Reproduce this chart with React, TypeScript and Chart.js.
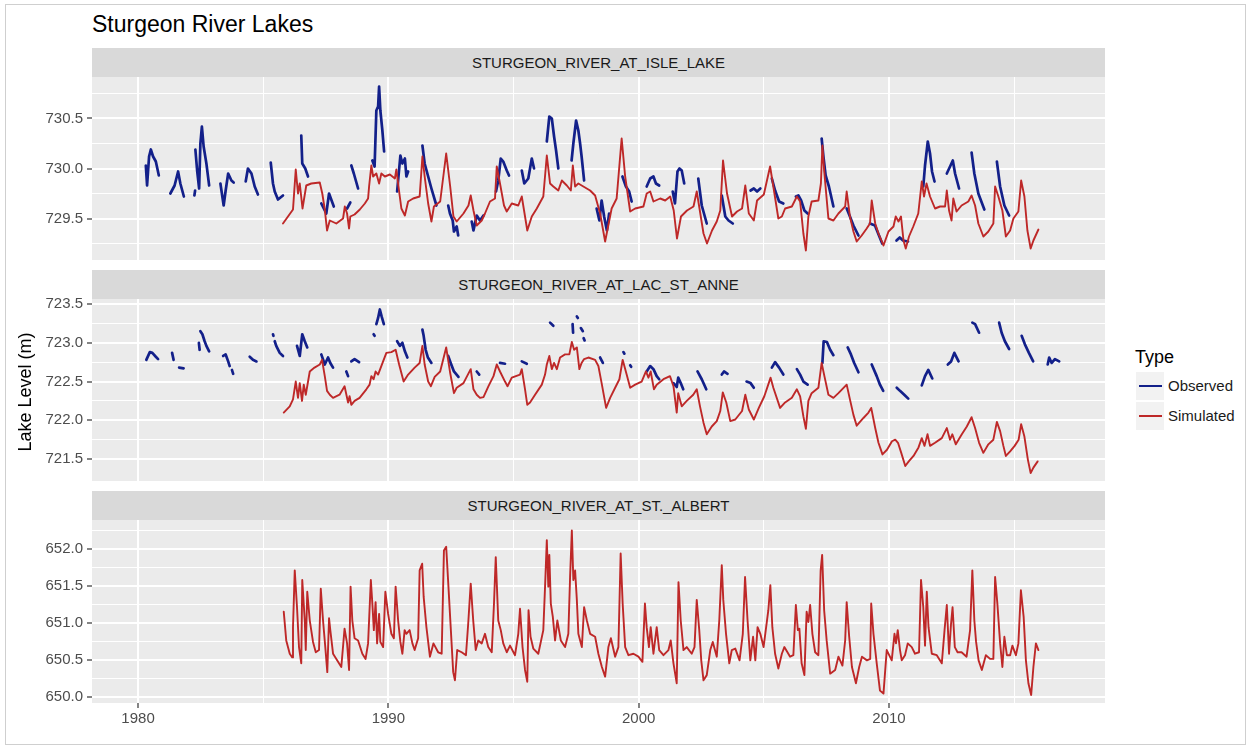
import React, { useEffect, useRef } from 'react';
import { Chart, registerables } from 'chart.js';

Chart.register(...registerables);

// ---------- tick labels ----------
const yearTicks = [1980, 1985, 1990, 1995, 2000, 2005, 2010, 2015];
const isleTicks = [729.25, 729.5, 729.75, 730, 730.25, 730.5, 730.75];
const lacTicks = [721.5, 721.75, 722, 722.25, 722.5, 722.75, 723, 723.25, 723.5];
const albertTicks = [650, 650.25, 650.5, 650.75, 651, 651.25, 651.5, 651.75, 652, 652.25];

const panelNames = ['STURGEON_RIVER_AT_ISLE_LAKE', 'STURGEON_RIVER_AT_LAC_ST_ANNE', 'STURGEON_RIVER_AT_ST._ALBERT'];
const legendTypes = ['Observed', 'Simulated'];

// ---------- series: [year, level] ----------
const isleSimulated: [number, number][] = [
  [1985.79,729.45],[1986.19,729.59],[1986.3,729.99],[1986.39,729.75],[1986.46,729.85],[1986.57,729.6],[1986.72,729.83],[1986.92,729.85],[1987.26,729.86],[1987.36,729.75],[1987.46,729.59],[1987.55,729.38],[1987.66,729.48],[1987.92,729.45],[1988.19,729.5],[1988.26,729.62],[1988.35,729.55],[1988.43,729.4],[1988.48,729.52],[1988.65,729.54],[1988.86,729.59],[1989.06,729.65],[1989.19,729.7],[1989.23,729.82],[1989.32,730.03],[1989.39,729.92],[1989.52,729.95],[1989.63,729.85],[1989.72,729.95],[1989.86,729.92],[1990.06,729.94],[1990.26,729.9],[1990.32,729.99],[1990.43,729.77],[1990.52,729.6],[1990.66,729.53],[1990.79,729.67],[1990.99,729.7],[1991.25,729.72],[1991.36,730.12],[1991.45,729.92],[1991.59,729.65],[1991.72,729.47],[1991.82,729.62],[1992.07,729.67],[1992.31,730.15],[1992.47,729.82],[1992.6,729.52],[1992.73,729.47],[1993.0,729.55],[1993.2,729.63],[1993.29,729.73],[1993.4,729.58],[1993.53,729.43],[1993.73,729.48],[1993.86,729.55],[1994.06,729.67],[1994.26,729.7],[1994.33,730.02],[1994.46,729.85],[1994.62,729.63],[1994.73,729.57],[1994.93,729.65],[1995.19,729.63],[1995.33,729.72],[1995.46,729.52],[1995.55,729.38],[1995.73,729.52],[1995.93,729.6],[1996.19,729.72],[1996.33,730.13],[1996.46,729.85],[1996.59,729.82],[1996.79,729.78],[1996.93,729.88],[1997.13,729.83],[1997.29,729.78],[1997.37,730.03],[1997.46,729.82],[1997.59,729.85],[1997.79,729.82],[1998.06,729.78],[1998.26,729.73],[1998.46,729.55],[1998.66,729.27],[1998.92,729.6],[1999.12,729.7],[1999.32,730.3],[1999.46,729.92],[1999.66,729.57],[1999.86,729.6],[2000.19,729.62],[2000.32,729.75],[2000.46,729.77],[2000.59,729.67],[2000.86,729.7],[2001.06,729.68],[2001.26,729.72],[2001.4,729.58],[2001.53,729.3],[2001.69,729.52],[2001.93,729.58],[2002.19,729.62],[2002.32,729.77],[2002.43,729.6],[2002.59,729.35],[2002.73,729.25],[2002.93,729.38],[2003.12,729.47],[2003.26,729.58],[2003.37,730.08],[2003.53,729.75],[2003.73,729.52],[2003.93,729.57],[2004.13,729.6],[2004.26,729.83],[2004.4,729.55],[2004.6,729.48],[2004.73,729.68],[2005.0,729.74],[2005.25,730.02],[2005.38,729.82],[2005.58,729.5],[2005.72,729.52],[2005.85,729.6],[2006.12,729.62],[2006.32,729.72],[2006.45,729.67],[2006.58,729.35],[2006.68,729.18],[2006.78,729.52],[2006.91,729.67],[2007.18,729.68],[2007.28,729.85],[2007.34,730.23],[2007.42,729.95],[2007.58,729.5],[2007.78,729.48],[2007.98,729.55],[2008.25,729.62],[2008.31,729.77],[2008.44,729.52],[2008.58,729.37],[2008.71,729.27],[2008.91,729.33],[2009.11,729.4],[2009.24,729.45],[2009.31,729.68],[2009.45,729.45],[2009.58,729.35],[2009.78,729.23],[2009.98,729.37],[2010.18,729.42],[2010.27,729.52],[2010.38,729.47],[2010.48,729.52],[2010.58,729.28],[2010.67,729.2],[2010.8,729.32],[2010.97,729.42],[2011.17,729.55],[2011.31,729.87],[2011.4,729.72],[2011.5,729.85],[2011.64,729.72],[2011.84,729.6],[2012.04,729.62],[2012.24,729.62],[2012.31,729.78],[2012.4,729.58],[2012.5,729.48],[2012.57,729.7],[2012.7,729.57],[2012.9,729.63],[2013.17,729.67],[2013.3,729.73],[2013.44,729.63],[2013.57,729.45],[2013.77,729.32],[2013.97,729.37],[2014.17,729.45],[2014.24,729.82],[2014.37,729.72],[2014.53,729.58],[2014.67,729.32],[2014.84,729.38],[2014.97,729.5],[2015.17,729.57],[2015.28,729.88],[2015.41,729.72],[2015.53,729.38],[2015.66,729.2],[2015.77,729.28],[2015.97,729.39]
];

const isleObserved: [number, number][][] = [
  [[1980.31,730.03],[1980.36,729.83],[1980.44,730.12],[1980.51,730.19],[1980.6,730.12],[1980.71,730.07],[1980.83,729.93]],
  [[1981.29,729.75],[1981.46,729.83],[1981.6,729.97],[1981.69,729.85],[1981.83,729.72]],
  [[1982.25,729.73],[1982.28,729.78]],
  [[1982.29,730.19],[1982.36,729.98],[1982.44,729.8],[1982.49,730.25],[1982.55,730.42],[1982.62,730.22],[1982.73,730.05],[1982.84,729.83]],
  [[1983.29,729.85],[1983.42,729.63],[1983.5,729.78],[1983.6,729.95],[1983.73,729.88],[1983.82,729.86]],
  [[1984.3,729.87],[1984.39,730.0],[1984.53,729.95],[1984.66,729.82],[1984.79,729.74]],
  [[1985.3,730.06],[1985.39,729.85],[1985.46,729.77],[1985.59,729.69],[1985.79,729.73]],
  [[1986.52,730.33],[1986.56,730.05],[1986.68,730.0],[1986.79,729.92]],
  [[1987.32,729.65],[1987.52,729.55],[1987.63,729.75],[1987.82,729.62]],
  [[1988.35,729.6],[1988.48,729.66]],
  [[1988.52,730.03],[1988.62,729.95],[1988.79,729.8]],
  [[1989.36,730.08],[1989.45,730.02],[1989.52,730.58],[1989.59,730.62],[1989.63,730.82],[1989.68,730.58],[1989.76,730.38],[1989.83,730.17]],
  [[1990.35,729.77],[1990.48,730.13],[1990.56,730.05],[1990.66,730.1],[1990.72,729.92],[1990.79,729.97]],
  [[1991.36,730.23],[1991.45,730.05],[1991.59,729.92],[1991.72,729.8],[1991.92,729.63]],
  [[1992.39,729.63],[1992.46,729.55],[1992.57,729.48],[1992.62,729.37],[1992.73,729.42],[1992.79,729.33]],
  [[1993.33,729.47],[1993.4,729.38],[1993.53,729.53],[1993.66,729.48],[1993.8,729.53]],
  [[1994.3,729.77],[1994.39,729.88],[1994.49,730.1],[1994.59,730.07],[1994.73,729.98],[1994.82,729.93]],
  [[1995.33,729.98],[1995.43,729.85],[1995.59,729.9],[1995.73,730.1],[1995.82,730.0]],
  [[1996.33,730.27],[1996.43,730.52],[1996.53,730.5],[1996.62,730.32],[1996.7,730.18],[1996.79,730.0]],
  [[1997.32,730.08],[1997.39,730.25],[1997.5,730.48],[1997.59,730.38],[1997.66,730.25],[1997.72,730.12],[1997.82,729.88]],
  [[1998.32,729.6],[1998.43,729.48],[1998.52,729.68],[1998.62,729.52],[1998.73,729.38],[1998.82,729.55]],
  [[1999.35,729.92],[1999.49,729.82],[1999.62,729.77],[1999.72,729.67]],
  [[2000.32,729.82],[2000.46,729.9],[2000.59,729.92],[2000.69,729.85],[2000.82,729.83]],
  [[2001.36,729.77],[2001.45,729.65],[2001.55,729.97],[2001.63,730.0],[2001.72,729.98],[2001.82,729.85]],
  [[2002.38,729.9],[2002.52,729.63],[2002.72,729.45]],
  [[2003.32,729.73],[2003.46,729.52],[2003.59,729.48],[2003.76,729.45]],
  [[2004.47,729.78],[2004.6,729.8],[2004.73,729.77],[2004.86,729.8]],
  [[2005.32,729.9],[2005.45,729.78],[2005.61,729.67],[2005.78,729.65]],
  [[2006.28,729.72],[2006.38,729.73],[2006.49,729.68],[2006.62,729.58],[2006.75,729.55]],
  [[2007.31,730.3],[2007.38,730.12],[2007.47,729.93],[2007.6,729.82],[2007.78,729.62]],
  [[2008.31,729.6],[2008.44,729.52],[2008.58,729.43],[2008.78,729.33]],
  [[2009.24,729.45],[2009.44,729.43],[2009.6,729.33],[2009.73,729.25]],
  [[2010.3,729.28],[2010.43,729.31],[2010.56,729.28],[2010.76,729.27]],
  [[2011.37,729.82],[2011.44,730.03],[2011.55,730.27],[2011.64,730.15],[2011.72,729.97],[2011.82,729.87]],
  [[2012.31,729.95],[2012.44,730.02],[2012.55,730.08],[2012.64,729.95],[2012.8,729.8]],
  [[2013.3,730.16],[2013.41,729.95],[2013.57,729.75],[2013.81,729.59]],
  [[2014.31,730.07],[2014.44,729.82],[2014.61,729.63],[2014.8,729.53]]
];

const lacSimulated: [number, number][] = [
  [1985.82,722.1],[1986.06,722.18],[1986.19,722.27],[1986.3,722.5],[1986.39,722.29],[1986.46,722.48],[1986.55,722.25],[1986.62,722.46],[1986.7,722.33],[1986.86,722.63],[1987.05,722.68],[1987.26,722.72],[1987.35,722.78],[1987.46,722.57],[1987.55,722.38],[1987.66,722.33],[1987.79,722.29],[1988.05,722.33],[1988.25,722.44],[1988.39,722.23],[1988.45,722.31],[1988.52,722.2],[1988.65,722.25],[1988.85,722.29],[1989.12,722.4],[1989.25,722.46],[1989.32,722.57],[1989.41,722.53],[1989.49,722.63],[1989.59,722.59],[1989.79,722.76],[1989.92,722.87],[1990.12,722.88],[1990.29,722.91],[1990.43,722.72],[1990.61,722.5],[1990.79,722.59],[1991.05,722.68],[1991.25,722.74],[1991.36,722.96],[1991.45,722.72],[1991.59,722.5],[1991.7,722.44],[1991.85,722.56],[1992.07,722.63],[1992.31,722.94],[1992.47,722.61],[1992.62,722.35],[1992.73,722.42],[1993.0,722.48],[1993.29,722.66],[1993.4,722.4],[1993.53,722.33],[1993.66,722.29],[1993.8,722.3],[1994.0,722.44],[1994.2,722.57],[1994.33,722.72],[1994.46,722.63],[1994.66,722.5],[1994.76,722.44],[1994.93,722.55],[1995.26,722.59],[1995.33,722.66],[1995.46,722.4],[1995.55,722.2],[1995.66,722.23],[1995.86,722.33],[1996.13,722.46],[1996.26,722.59],[1996.33,722.72],[1996.43,722.83],[1996.53,722.66],[1996.62,722.74],[1996.73,722.66],[1996.86,722.81],[1997.06,722.85],[1997.23,722.85],[1997.33,723.01],[1997.42,722.91],[1997.53,722.94],[1997.63,722.66],[1997.72,722.74],[1997.82,722.79],[1997.99,722.81],[1998.26,722.78],[1998.39,722.7],[1998.52,722.48],[1998.7,722.16],[1998.86,722.29],[1999.06,722.42],[1999.23,722.53],[1999.36,722.78],[1999.52,722.59],[1999.66,722.42],[1999.86,722.46],[2000.12,722.5],[2000.29,722.63],[2000.39,722.55],[2000.48,722.63],[2000.61,722.4],[2000.72,722.46],[2000.99,722.53],[2001.25,722.57],[2001.39,722.44],[2001.52,722.1],[2001.58,722.35],[2001.72,722.18],[2001.92,722.25],[2002.18,722.33],[2002.32,722.4],[2002.45,722.18],[2002.59,721.97],[2002.72,721.82],[2002.92,721.92],[2003.12,721.99],[2003.26,722.12],[2003.36,722.36],[2003.5,722.23],[2003.66,721.99],[2003.86,722.01],[2004.13,722.12],[2004.26,722.33],[2004.4,722.14],[2004.6,722.01],[2004.8,722.16],[2005.02,722.31],[2005.27,722.55],[2005.38,722.42],[2005.65,722.16],[2005.85,722.23],[2006.12,722.29],[2006.32,722.4],[2006.45,722.31],[2006.58,722.05],[2006.68,721.89],[2006.78,722.25],[2006.91,722.35],[2007.18,722.42],[2007.31,722.74],[2007.42,722.57],[2007.58,722.33],[2007.78,722.29],[2007.98,722.35],[2008.31,722.46],[2008.44,722.27],[2008.58,722.07],[2008.71,721.93],[2008.98,722.03],[2009.18,722.1],[2009.29,722.16],[2009.45,721.9],[2009.58,721.71],[2009.74,721.56],[2009.92,721.62],[2010.12,721.73],[2010.25,721.75],[2010.36,721.71],[2010.49,721.58],[2010.65,721.41],[2010.79,721.47],[2010.98,721.54],[2011.18,721.65],[2011.31,721.77],[2011.42,721.67],[2011.54,721.82],[2011.64,721.67],[2011.84,721.71],[2012.11,721.77],[2012.31,721.9],[2012.44,721.75],[2012.53,721.82],[2012.67,721.69],[2012.91,721.82],[2013.11,721.92],[2013.3,722.04],[2013.44,721.9],[2013.6,721.71],[2013.77,721.58],[2013.97,721.69],[2014.17,721.75],[2014.31,721.98],[2014.44,721.86],[2014.57,721.67],[2014.67,721.54],[2014.84,721.6],[2015.02,721.67],[2015.18,721.75],[2015.28,721.95],[2015.41,721.79],[2015.55,721.49],[2015.66,721.32],[2015.77,721.39],[2015.94,721.47]
];

const lacObserved: [number, number][][] = [
  [[1980.33,722.78],[1980.47,722.88],[1980.57,722.87],[1980.71,722.82],[1980.8,722.79]],
  [[1981.36,722.87],[1981.42,722.78]],
  [[1981.64,722.68],[1981.82,722.67]],
  [[1982.43,723.0],[1982.46,722.91]],
  [[1982.49,723.15],[1982.57,723.11],[1982.66,723.02],[1982.73,722.96],[1982.84,722.89]],
  [[1983.4,722.83],[1983.5,722.85],[1983.6,722.76],[1983.66,722.7]],
  [[1983.75,722.65],[1983.8,722.6]],
  [[1984.46,722.82],[1984.59,722.78],[1984.73,722.76]],
  [[1985.39,723.11],[1985.41,723.09]],
  [[1985.46,723.02],[1985.52,722.96],[1985.66,722.87],[1985.79,722.83]],
  [[1986.35,722.96],[1986.46,722.83],[1986.56,723.11],[1986.66,723.02],[1986.76,722.94]],
  [[1987.32,722.85],[1987.46,722.72],[1987.59,722.81],[1987.68,722.74],[1987.79,722.68]],
  [[1988.32,722.63],[1988.39,722.57]],
  [[1988.52,722.76],[1988.65,722.79],[1988.83,722.75]],
  [[1989.41,723.11],[1989.45,723.09]],
  [[1989.52,723.24],[1989.59,723.32],[1989.66,723.43],[1989.73,723.34],[1989.82,723.24]],
  [[1990.35,723.02],[1990.46,722.96],[1990.56,723.0],[1990.66,722.89],[1990.76,722.81]],
  [[1991.36,723.17],[1991.41,723.09],[1991.49,722.91],[1991.58,722.81],[1991.72,722.74]],
  [[1992.39,722.83],[1992.49,722.74],[1992.62,722.63],[1992.8,722.56]],
  [[1993.53,722.63],[1993.63,722.59]],
  [[1994.46,722.74],[1994.66,722.73]],
  [[1995.33,722.76],[1995.53,722.73]],
  [[1996.46,723.26],[1996.59,723.22]],
  [[1997.36,723.24],[1997.38,723.13]],
  [[1997.53,723.34],[1997.57,723.32]],
  [[1997.69,723.19],[1997.77,723.15]],
  [[1997.8,723.06],[1997.84,723.03]],
  [[1998.46,722.81],[1998.57,722.74]],
  [[1999.39,722.88],[1999.43,722.86]],
  [[1999.66,722.71],[1999.7,722.69]],
  [[2000.32,722.63],[2000.46,722.7],[2000.59,722.66],[2000.72,722.57],[2000.82,722.53]],
  [[2001.39,722.48],[2001.52,722.43],[2001.58,722.55],[2001.68,722.48],[2001.78,722.4]],
  [[2002.35,722.63],[2002.52,722.53],[2002.7,722.4]],
  [[2003.32,722.59],[2003.41,722.63],[2003.55,722.6]],
  [[2004.31,722.5],[2004.47,722.48],[2004.6,722.42]],
  [[2005.32,722.68],[2005.45,722.75],[2005.61,722.68],[2005.78,722.59]],
  [[2006.32,722.66],[2006.45,722.59],[2006.58,722.5],[2006.75,722.46]],
  [[2007.34,722.74],[2007.39,723.02],[2007.52,723.01],[2007.65,722.91],[2007.78,722.84]],
  [[2008.35,722.94],[2008.48,722.85],[2008.61,722.74],[2008.78,722.62]],
  [[2009.31,722.72],[2009.51,722.57],[2009.64,722.46],[2009.77,722.38]],
  [[2010.31,722.42],[2010.44,722.38],[2010.61,722.33],[2010.77,722.28]],
  [[2011.31,722.45],[2011.44,722.57],[2011.57,722.65],[2011.73,722.54]],
  [[2012.35,722.72],[2012.48,722.76],[2012.61,722.87],[2012.78,722.76]],
  [[2013.33,723.26],[2013.44,723.24],[2013.6,723.13]],
  [[2014.4,723.26],[2014.5,723.13],[2014.63,723.02],[2014.8,722.92]],
  [[2015.3,723.09],[2015.43,722.98],[2015.59,722.87],[2015.76,722.76]],
  [[2016.34,722.72],[2016.4,722.81],[2016.5,722.74],[2016.63,722.79],[2016.8,722.76]]
];

const albertSimulated: [number, number][] = [
  [1985.82,651.15],[1985.92,650.76],[1986.06,650.58],[1986.16,650.53],[1986.19,650.94],[1986.26,651.71],[1986.35,651.21],[1986.43,650.67],[1986.52,650.45],[1986.56,651.58],[1986.66,651.03],[1986.7,650.63],[1986.76,651.42],[1986.86,651.03],[1986.99,650.74],[1987.1,650.6],[1987.23,650.63],[1987.3,651.46],[1987.39,651.03],[1987.48,650.67],[1987.56,650.33],[1987.63,651.06],[1987.68,650.9],[1987.79,650.58],[1987.99,650.47],[1988.12,650.4],[1988.25,650.92],[1988.35,650.72],[1988.43,650.36],[1988.49,651.49],[1988.56,651.03],[1988.65,650.79],[1988.79,650.76],[1988.96,650.58],[1989.09,650.51],[1989.19,650.72],[1989.3,651.58],[1989.36,651.26],[1989.42,650.9],[1989.49,651.28],[1989.55,650.72],[1989.63,651.12],[1989.68,650.74],[1989.79,650.67],[1989.88,651.42],[1989.99,651.12],[1990.12,650.85],[1990.22,650.79],[1990.29,651.49],[1990.39,651.03],[1990.48,650.74],[1990.56,650.58],[1990.65,650.9],[1990.72,650.85],[1990.85,650.9],[1990.96,650.72],[1991.05,650.63],[1991.19,650.79],[1991.25,651.71],[1991.35,651.8],[1991.41,651.35],[1991.52,650.94],[1991.66,650.54],[1991.8,650.72],[1991.99,650.6],[1992.13,650.58],[1992.22,651.98],[1992.31,652.03],[1992.4,651.49],[1992.49,650.94],[1992.59,650.33],[1992.66,650.22],[1992.75,650.63],[1992.93,650.6],[1993.1,650.56],[1993.19,650.99],[1993.29,651.53],[1993.39,651.03],[1993.49,650.63],[1993.59,650.76],[1993.73,650.72],[1993.86,650.85],[1993.99,650.67],[1994.13,650.6],[1994.22,651.26],[1994.29,651.89],[1994.39,651.03],[1994.49,650.9],[1994.59,650.72],[1994.73,650.6],[1994.86,650.69],[1995.06,650.56],[1995.19,650.85],[1995.26,651.19],[1995.36,650.67],[1995.46,650.36],[1995.55,650.2],[1995.6,651.17],[1995.68,650.81],[1995.79,650.65],[1995.99,650.58],[1996.19,650.9],[1996.26,651.49],[1996.33,652.12],[1996.39,651.49],[1996.43,651.92],[1996.49,651.26],[1996.57,651.08],[1996.66,650.76],[1996.75,651.03],[1996.89,650.76],[1997.06,650.67],[1997.19,650.85],[1997.26,651.62],[1997.33,652.25],[1997.39,651.58],[1997.46,651.71],[1997.53,651.31],[1997.59,650.85],[1997.73,650.67],[1997.82,651.21],[1997.93,651.03],[1998.06,650.85],[1998.26,650.81],[1998.39,650.58],[1998.53,650.4],[1998.66,650.27],[1998.79,650.67],[1998.89,650.79],[1999.06,650.54],[1999.19,650.67],[1999.28,651.94],[1999.36,651.26],[1999.46,650.67],[1999.59,650.56],[1999.79,650.58],[1999.99,650.54],[2000.15,650.47],[2000.25,651.26],[2000.32,650.94],[2000.41,650.67],[2000.48,650.94],[2000.59,650.58],[2000.72,650.94],[2000.82,650.63],[2000.99,650.56],[2001.19,650.63],[2001.28,650.76],[2001.39,650.45],[2001.52,650.18],[2001.59,651.55],[2001.68,651.03],[2001.79,650.63],[2001.92,650.67],[2002.12,650.58],[2002.23,650.67],[2002.32,651.31],[2002.42,650.9],[2002.5,650.49],[2002.59,650.22],[2002.72,650.29],[2002.86,650.63],[2002.96,650.74],[2003.12,650.54],[2003.22,651.03],[2003.32,651.78],[2003.38,651.31],[2003.49,650.85],[2003.62,650.45],[2003.72,650.63],[2003.86,650.65],[2004.03,650.49],[2004.16,650.85],[2004.25,651.62],[2004.35,651.03],[2004.46,650.49],[2004.57,650.81],[2004.66,650.49],[2004.75,650.94],[2004.86,650.85],[2004.99,650.67],[2005.18,651.17],[2005.26,651.51],[2005.34,650.94],[2005.45,650.58],[2005.58,650.38],[2005.72,650.58],[2005.82,650.67],[2006.05,650.54],[2006.18,650.56],[2006.28,651.24],[2006.36,650.9],[2006.42,650.92],[2006.51,650.45],[2006.62,650.29],[2006.71,651.15],[2006.78,651.01],[2006.85,651.24],[2006.94,650.85],[2007.05,650.6],[2007.18,650.56],[2007.27,651.71],[2007.33,651.92],[2007.41,651.17],[2007.51,650.76],[2007.65,650.31],[2007.85,650.36],[2007.98,650.54],[2008.14,650.42],[2008.25,650.76],[2008.31,651.28],[2008.41,650.81],[2008.52,650.4],[2008.68,650.18],[2008.81,650.4],[2008.92,650.54],[2009.12,650.49],[2009.25,650.51],[2009.29,651.26],[2009.38,650.85],[2009.51,650.45],[2009.64,650.08],[2009.78,650.04],[2009.91,650.63],[2010.11,650.49],[2010.22,650.85],[2010.28,650.72],[2010.35,650.9],[2010.44,650.63],[2010.51,650.49],[2010.64,650.56],[2010.75,650.72],[2010.91,650.67],[2011.04,650.58],[2011.2,650.6],[2011.28,651.58],[2011.37,651.21],[2011.44,650.69],[2011.51,651.42],[2011.58,650.94],[2011.71,650.58],[2011.91,650.56],[2012.11,650.45],[2012.22,650.9],[2012.31,651.24],[2012.4,650.58],[2012.48,650.99],[2012.54,651.21],[2012.63,650.67],[2012.74,650.6],[2012.9,650.6],[2013.1,650.54],[2013.24,650.9],[2013.33,651.71],[2013.41,651.03],[2013.48,650.74],[2013.58,650.49],[2013.71,650.36],[2013.87,650.56],[2014.04,650.51],[2014.17,650.51],[2014.24,651.62],[2014.33,651.26],[2014.44,650.72],[2014.53,650.4],[2014.61,650.81],[2014.71,650.56],[2014.84,650.56],[2014.93,650.69],[2015.07,650.56],[2015.17,650.72],[2015.27,651.44],[2015.38,651.08],[2015.47,650.49],[2015.57,650.18],[2015.68,650.02],[2015.77,650.4],[2015.87,650.72],[2015.97,650.63]
];

// ---------- styling / layout ----------
const FONT = "'Liberation Sans', Arial, Helvetica, sans-serif";
const BLUE = '#13208A';
const RED = '#BE2828';
const X_RANGE = [1978.16, 2018.63];
const PLOT_LEFT = 92;
const PLOT_RIGHT = 1105;
const PAD_TOP = 12; // extra canvas room above each panel for the top tick label

type PanelSpec = {
  top: number;
  height: number;
  yRange: [number, number];
  yTicks: number[];
  sim: [number, number][];
  obs: [number, number][][] | null;
  showX: boolean;
  stripTop: number;
  name: string;
};

const panels: PanelSpec[] = [
  { top: 77, height: 183, yRange: [729.085, 730.915], yTicks: isleTicks, sim: isleSimulated, obs: isleObserved, showX: false, stripTop: 48, name: panelNames[0] },
  { top: 299, height: 182, yRange: [721.217, 723.565], yTicks: lacTicks, sim: lacSimulated, obs: lacObserved, showX: false, stripTop: 270, name: panelNames[1] },
  { top: 520, height: 183, yRange: [649.912, 652.393], yTicks: albertTicks, sim: albertSimulated, obs: null, showX: true, stripTop: 491, name: panelNames[2] },
];

const X_AXIS_H = 30;

function toPoints(pairs: [number, number][]) {
  return pairs.map(([x, y]) => ({ x, y }));
}

function segmentsToPoints(segs: [number, number][][]) {
  const out: { x: number; y: number | null }[] = [];
  segs.forEach((s, i) => {
    if (i > 0) {
      const prev = segs[i - 1];
      out.push({ x: (prev[prev.length - 1][0] + s[0][0]) / 2, y: null });
    }
    s.forEach(([x, y]) => out.push({ x, y }));
  });
  return out;
}

const isMajorY = (v: number) => Math.abs(v * 2 - Math.round(v * 2)) < 1e-6;
const isMajorX = (v: number) => Math.abs(v % 10) < 1e-6;

const panelBg = {
  id: 'panelBg',
  beforeDraw(chart: any) {
    const { ctx, chartArea } = chart;
    if (!chartArea) return;
    ctx.save();
    ctx.fillStyle = '#EBEBEB';
    ctx.fillRect(chartArea.left, chartArea.top, chartArea.right - chartArea.left, chartArea.bottom - chartArea.top);
    ctx.restore();
  },
};

function makeChart(canvas: HTMLCanvasElement, p: PanelSpec) {
  const datasets: any[] = [
    {
      label: legendTypes[1],
      data: toPoints(p.sim),
      borderColor: RED,
      borderWidth: 1.9,
      pointRadius: 0,
      tension: 0,
      spanGaps: false,
      borderJoinStyle: 'round',
      borderCapStyle: 'round',
      order: 0,
    },
  ];
  if (p.obs) {
    datasets.push({
      label: legendTypes[0],
      data: segmentsToPoints(p.obs),
      borderColor: BLUE,
      borderWidth: 2.7,
      pointRadius: 0,
      tension: 0,
      spanGaps: false,
      borderJoinStyle: 'round',
      borderCapStyle: 'round',
      order: 1,
    });
  }
  return new Chart(canvas, {
    type: 'line',
    data: { datasets },
    plugins: [panelBg],
    options: {
      responsive: false,
      maintainAspectRatio: false,
      animation: false,
      devicePixelRatio: 1,
      events: [],
      layout: { padding: { top: PAD_TOP, left: 0, right: 0, bottom: 0 } },
      plugins: {
        legend: { display: false },
        tooltip: { enabled: false },
        title: { display: false },
      },
      scales: {
        x: {
          type: 'linear',
          min: X_RANGE[0],
          max: X_RANGE[1],
          bounds: 'data',
          afterBuildTicks: (s: any) => {
            s.ticks = yearTicks.map((v) => ({ value: v }));
          },
          afterFit: (s: any) => {
            s.height = p.showX ? X_AXIS_H : 0;
            s.paddingLeft = 0;
            s.paddingRight = 0;
            s.paddingTop = 0;
            s.paddingBottom = 0;
          },
          border: { display: false },
          grid: {
            color: '#FFFFFF',
            lineWidth: (c: any) => (c.tick && isMajorX(c.tick.value) ? 2 : 1),
            drawTicks: p.showX,
            tickLength: 5,
            tickWidth: 1.2,
            tickColor: (c: any) => (c.tick && isMajorX(c.tick.value) ? '#333333' : 'rgba(0,0,0,0)'),
          },
          ticks: {
            display: p.showX,
            autoSkip: false,
            maxRotation: 0,
            minRotation: 0,
            padding: 2,
            color: '#4D4D4D',
            font: { family: FONT, size: 15 },
            callback: (v: any) => (isMajorX(Number(v)) ? String(v) : ''),
          },
        },
        y: {
          type: 'linear',
          min: p.yRange[0],
          max: p.yRange[1],
          bounds: 'data',
          afterBuildTicks: (s: any) => {
            s.ticks = p.yTicks.map((v) => ({ value: v }));
          },
          afterFit: (s: any) => {
            s.width = PLOT_LEFT;
            s.paddingTop = 0;
            s.paddingBottom = 0;
            s.paddingLeft = 0;
            s.paddingRight = 0;
          },
          border: { display: false },
          grid: {
            color: '#FFFFFF',
            lineWidth: (c: any) => (c.tick && isMajorY(c.tick.value) ? 2 : 1),
            drawTicks: true,
            tickLength: 5,
            tickWidth: 1.2,
            tickColor: (c: any) => (c.tick && isMajorY(c.tick.value) ? '#333333' : 'rgba(0,0,0,0)'),
          },
          ticks: {
            autoSkip: false,
            padding: 4,
            color: '#4D4D4D',
            font: { family: FONT, size: 15 },
            callback: (v: any) => (isMajorY(Number(v)) ? Number(v).toFixed(1) : ''),
          },
        },
      },
    } as any,
  });
}

export default function App() {
  const refs = useRef<(HTMLCanvasElement | null)[]>([]);

  useEffect(() => {
    const charts = panels.map((p, i) => makeChart(refs.current[i] as HTMLCanvasElement, p));
    return () => charts.forEach((c) => c.destroy());
  }, []);

  return (
    <div
      style={{
        position: 'absolute',
        left: 0,
        top: 0,
        width: 1253,
        height: 751,
        background: '#FFFFFF',
        fontFamily: FONT,
        overflow: 'hidden',
      }}
    >
      <div
        style={{
          position: 'absolute',
          left: 5,
          top: 4,
          width: 1241,
          height: 741,
          border: '1px solid #CFCFCF',
          boxSizing: 'border-box',
        }}
      />
      <div style={{ position: 'absolute', left: 92, top: 13, fontSize: 23, lineHeight: '23px', color: '#000' }}>
        Sturgeon River Lakes
      </div>

      {panels.map((p, i) => (
        <div
          key={'strip' + i}
          style={{
            position: 'absolute',
            left: PLOT_LEFT,
            top: p.stripTop,
            width: PLOT_RIGHT - PLOT_LEFT,
            height: 29,
            background: '#D9D9D9',
            color: '#1A1A1A',
            fontSize: 15,
            lineHeight: '29px',
            textAlign: 'center',
          }}
        >
          {p.name}
        </div>
      ))}

      {panels.map((p, i) => {
        const h = PAD_TOP + p.height + (p.showX ? X_AXIS_H : 0);
        return (
          <canvas
            key={'cv' + i}
            ref={(el) => {
              refs.current[i] = el;
            }}
            width={PLOT_RIGHT}
            height={h}
            style={{
              position: 'absolute',
              left: 0,
              top: p.top - PAD_TOP,
              width: PLOT_RIGHT,
              height: h,
              display: 'block',
            }}
          />
        );
      })}

      <div
        style={{
          position: 'absolute',
          left: -75,
          top: 381,
          width: 200,
          height: 22,
          lineHeight: '22px',
          fontSize: 18,
          textAlign: 'center',
          color: '#000',
          transform: 'rotate(-90deg)',
          transformOrigin: '50% 50%',
          whiteSpace: 'nowrap',
        }}
      >
        Lake Level (m)
      </div>

      <div style={{ position: 'absolute', left: 1135, top: 347, fontSize: 18, lineHeight: '20px', color: '#000' }}>Type</div>
      {legendTypes.map((t, i) => (
        <React.Fragment key={'lg' + i}>
          <div
            style={{
              position: 'absolute',
              left: 1136,
              top: 372 + i * 30,
              width: 28,
              height: 28,
              background: '#F2F2F2',
            }}
          />
          <div
            style={{
              position: 'absolute',
              left: 1139,
              top: 385 + i * 30,
              width: 23,
              height: 2,
              background: i === 0 ? BLUE : RED,
            }}
          />
          <div
            style={{
              position: 'absolute',
              left: 1168,
              top: 376 + i * 30,
              fontSize: 15,
              lineHeight: '20px',
              color: '#1A1A1A',
            }}
          >
            {t}
          </div>
        </React.Fragment>
      ))}
    </div>
  );
}
